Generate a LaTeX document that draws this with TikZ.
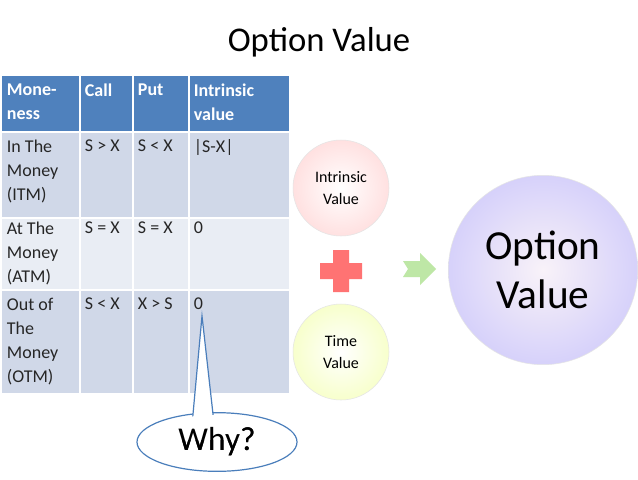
\documentclass[tikz,border=0pt]{standalone}
\usepackage{fontspec}
\setmainfont{Carlito}
\usetikzlibrary{shapes.geometric}
\definecolor{hdr}{HTML}{4F81BD}
\definecolor{rowA}{HTML}{D0D8E8}
\definecolor{rowB}{HTML}{E9EDF4}
\definecolor{cb}{HTML}{4A7EBB}
\tikzset{
  cell/.style={anchor=north west,align=left,inner sep=2pt,font=\fontsize{13.5}{18}\selectfont,text=black!85},
  hcell/.style={cell,text=white,font=\bfseries\fontsize{13.5}{18}\selectfont},
  circ/.style={circle,draw=white!80!gray,align=center,font=\fontsize{12}{16}\selectfont},
}
\begin{document}
\begin{tikzpicture}[x=0.75pt,y=-0.75pt]
\useasboundingbox (0,0) rectangle (638,479);
\fill[white] (0,0) rectangle (638,479);
\node (title) at (319,42) {\fontsize{26}{30}\selectfont Option Value};
% table
\fill[hdr] (2,76) rectangle (289,132);
\fill[rowA] (2,132) rectangle (289,218);
\fill[rowB] (2,218) rectangle (289,290);
\fill[rowA] (2,290) rectangle (289,393);
\foreach \y in {132,218,290} \draw[white,line width=1pt] (2,\y) -- (289,\y);
\foreach \x in {80,133,189} \draw[white,line width=1pt] (\x,76) -- (\x,393);
\node[hcell] (h1) at (4,81) {Mone-\\ness};
\node[hcell] (h2) at (82,81) {Call};
\node[hcell] (h3) at (135,81) {Put};
\node[hcell] (h4) at (191,81) {Intrinsic\\value};
\node[cell] (a1) at (4,137) {In The\\Money\\(ITM)};
\node[cell] (a2) at (82,137) {S > X};
\node[cell] (a3) at (135,137) {S < X};
\node[cell] (a4) at (191,137) {|S-X|};
\node[cell] (b1) at (4,219) {At The\\Money\\(ATM)};
\node[cell] (b2) at (82,219) {S = X};
\node[cell] (b3) at (135,219) {S = X};
\node[cell] (b4) at (191,219) {0};
\node[cell] (c1) at (4,295) {Out of\\The\\Money\\(OTM)};
\node[cell] (c2) at (82,295) {S < X};
\node[cell] (c3) at (135,295) {X > S};
\node[cell] (c4) at (191,295) {0};
% circles
\node[circ,minimum size=72pt,inner color=white,outer color=red!12] (iv) at (341,188) {Intrinsic\\Value};
\node[circ,minimum size=72pt,inner color=white,outer color=green!15!yellow!20] (tv) at (341,352) {Time\\Value};
\node[circ,minimum size=142pt,inner color=white!80!violet!25,outer color=violet!22!blue!18,font=\fontsize{31}{37}\selectfont] (ov) at (543,270) {Option\\Value};
% plus
\fill[red!55!white] (333,250) rectangle (349,292) (320,263) rectangle (362,279);
% arrow
\fill[green!45!olive!35!white] (403,261) -- (420,261) -- (420,253) -- (436,269) -- (420,285) -- (420,277) -- (403,277) -- (408,269) -- cycle;
% callout
\node[ellipse,draw=cb,fill=white,line width=0.9pt,minimum width=120pt,minimum height=44pt,inner sep=0pt] (why) at (217,442) {\fontsize{25}{30}\selectfont Why?};
\coordinate (tip) at (202,316);
\fill[white] (192,425) -- (tip) -- (214,423) -- cycle;
\draw[cb,line width=0.9pt] (192,425) -- (tip) -- (214,423);
\begin{scope}
\clip (217,442) ellipse [x radius=78, y radius=27];
\fill[white] (170,400) rectangle (240,440);
\end{scope}
\node at (why.center) {\fontsize{25}{30}\selectfont Why?};
\end{tikzpicture}
\end{document}
